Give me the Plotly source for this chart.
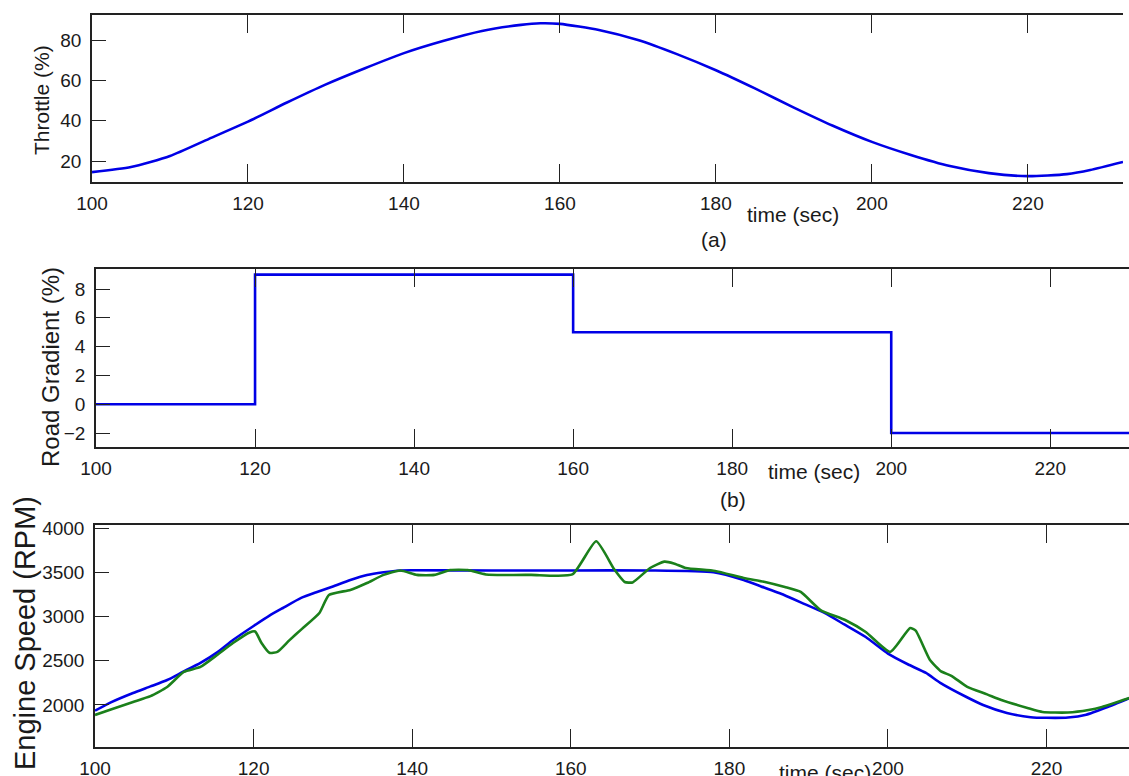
import plotly.graph_objects as go

W, H = 1129, 776

# ---------------- data ----------------
throttle_t = [100, 105, 110, 115, 120, 125, 130, 135, 140, 145, 150, 155, 157.5,
              160, 165, 170, 175, 180, 185, 190, 195, 200, 205, 210, 215, 220,
              225, 228, 232.2]
throttle_v = [14.5, 17, 22.5, 31, 39.5, 49, 58, 66, 73.5, 79.5, 84.5, 87.5, 88.3,
              88, 85, 80, 73, 65, 56, 46.5, 37.5, 29.5, 23, 17.5, 14, 12.5,
              13.5, 15.5, 19.5]

grade_t = [100, 120, 160, 200, 230]
grade_v = [0, 9, 5, -2, -2]

speed_ref_t = [100, 102, 104.8, 107, 109.1, 111, 113.3, 115.5, 117.4, 120, 122, 123.7,
               126, 128, 130, 132.2, 134.3, 136.4, 138.5, 140, 150, 160, 170, 178,
               181.8, 184, 186.9, 189.5, 192, 194.5, 197.2, 200, 202.5, 204.8, 206.6,
               209.9, 212, 215, 218, 220, 222.7, 225, 227.7, 230.5]
speed_ref_v = [1935, 2030, 2136, 2210, 2282, 2370, 2475, 2600, 2734, 2893, 3010, 3096,
               3210, 3277, 3340, 3412, 3469, 3500, 3520, 3522, 3520, 3520, 3520, 3500,
               3412, 3340, 3243, 3140, 3040, 2910, 2768, 2580, 2460, 2362, 2250,
               2090, 2000, 1910, 1862, 1855, 1858, 1890, 1977, 2079]

speed_act_t = [100, 102, 104.8, 107, 109.1, 111.2, 113.3, 115.4, 117.4, 119.5, 120.2,
               121, 122, 123, 124.5, 126.1, 128.3, 129.5, 132.2, 134.3, 136.4, 138.5,
               140.6, 142.8, 144.8, 147, 149.3, 155, 160.2, 163.2, 165.5, 166.8, 167.8,
               170, 171.8, 173, 174.5, 178.2, 181.8, 184.5, 187, 189, 191.5, 194.6,
               197.2, 200.3, 202.8, 203.5, 205.3, 206.7, 208, 210, 212.5, 214.3, 217.6,
               219.5, 222.7, 225.3, 227, 230.5]
speed_act_v = [1887, 1950, 2034, 2100, 2203, 2373, 2430, 2565, 2700, 2820, 2830,
               2700, 2590, 2600, 2730, 2860, 3040, 3243, 3300, 3378, 3470, 3520,
               3470, 3470, 3525, 3525, 3475, 3470, 3475, 3850, 3530, 3390, 3385,
               3548, 3620, 3600, 3548, 3514, 3435, 3390, 3333, 3277, 3073, 2960,
               2825, 2600, 2870, 2840, 2508, 2380, 2330, 2205, 2120, 2056, 1966,
               1920, 1915, 1943, 1977, 2079]

x_ticks = [100, 120, 140, 160, 180, 200, 220]
throttle_ticks = [20, 40, 60, 80]
grade_ticks = [-2, 0, 2, 4, 6, 8]
speed_ticks = [2000, 2500, 3000, 3500, 4000]

BLUE = "#0000e6"
GREEN = "#1b801b"
TICKFONT = dict(family="Liberation Sans Narrow, Arial Narrow, Liberation Sans, Arial, sans-serif",
                size=19, color="#1a1a1a")
TEXTFONT = "Liberation Sans, Arial, sans-serif"


def px_x(x):
    return x / W


def px_y(y):
    return 1 - y / H


fig = go.Figure()
fig.add_trace(go.Scatter(x=throttle_t, y=throttle_v, mode="lines",
                         line=dict(color=BLUE, width=2.6, shape="spline", smoothing=0.6),
                         xaxis="x", yaxis="y", showlegend=False))
fig.add_trace(go.Scatter(x=grade_t, y=grade_v, mode="lines",
                         line=dict(color=BLUE, width=2.6, shape="hv"),
                         xaxis="x2", yaxis="y2", showlegend=False))
fig.add_trace(go.Scatter(x=speed_ref_t, y=speed_ref_v, mode="lines",
                         line=dict(color=BLUE, width=2.6, shape="spline", smoothing=0.5),
                         xaxis="x3", yaxis="y3", showlegend=False))
fig.add_trace(go.Scatter(x=speed_act_t, y=speed_act_v, mode="lines",
                         line=dict(color=GREEN, width=2.6, shape="spline", smoothing=0.5),
                         xaxis="x3", yaxis="y3", showlegend=False))


def xaxis(domain, rng, anchor):
    return dict(domain=domain, range=rng, anchor=anchor, tickvals=x_ticks,
                ticks="inside", ticklen=18, tickwidth=1.2, tickcolor="#222",
                showline=True, linecolor="#222", linewidth=1.5, mirror="ticks",
                showgrid=False, zeroline=False, tickfont=TICKFONT,
                ticklabelstandoff=3, automargin=False)


def yaxis(domain, rng, anchor, ticks):
    return dict(domain=domain, range=rng, anchor=anchor, tickvals=ticks,
                ticks="inside", ticklen=14, tickwidth=1.2, tickcolor="#222",
                showline=True, linecolor="#222", linewidth=1.5, mirror=False,
                showgrid=False, zeroline=False, tickfont=TICKFONT,
                ticklabelstandoff=5, automargin=False)


fig.update_layout(
    template="none",
    width=W, height=H,
    margin=dict(l=0, r=0, t=0, b=0, pad=0),
    paper_bgcolor="white", plot_bgcolor="white",
    xaxis=xaxis([px_x(92), px_x(1123)], [100, 232.2], "y"),
    yaxis=yaxis([px_y(182), px_y(15)], [9.6, 92.4], "x", throttle_ticks),
    xaxis2=xaxis([px_x(96), 1], [100, 229.9], "y2"),
    yaxis2=yaxis([px_y(447), px_y(269)], [-2.97, 9.39], "x2", grade_ticks),
    xaxis3=xaxis([px_x(95), 1], [100, 230.4], "y3"),
    yaxis3=yaxis([px_y(747), px_y(525)], [1525, 4034], "x3", speed_ticks),
)

ann = [
    ("time (sec)", 793, 214, 21, 0),
    ("(a)", 714, 239, 21, 0),
    ("time (sec)", 814, 472, 21, 0),
    ("(b)", 733, 499, 21, 0),
    ("time (sec)", 825, 772, 21, 0),
    ("Throttle (%)", 42, 100, 21, -90),
    ("Road Gradient (%)", 50, 367, 24, -90),
    ("Engine Speed (RPM)", 25, 633, 29, -90),
]
for text, x, y, size, ang in ann:
    fig.add_annotation(text=text, x=px_x(x), y=px_y(y), xref="paper", yref="paper",
                       showarrow=False, xanchor="center", yanchor="middle",
                       textangle=ang, font=dict(family=TEXTFONT, size=size, color="#1a1a1a"))

fig.write_html("out.html")
